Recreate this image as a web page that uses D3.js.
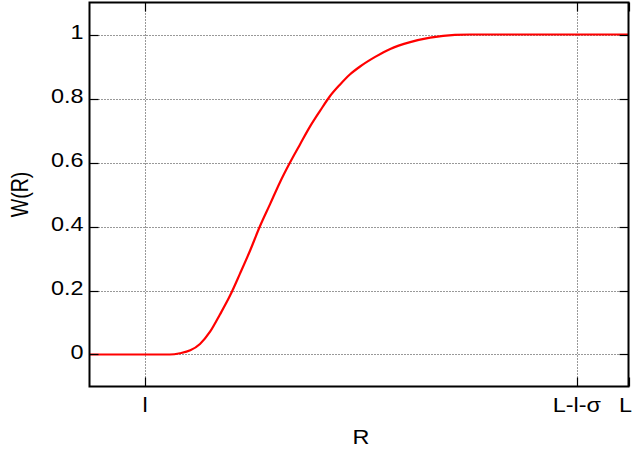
<!DOCTYPE html>
<html>
<head>
<meta charset="utf-8">
<script src="https://cdn.jsdelivr.net/npm/d3@7"></script>
<style>
  body { margin: 0; background: #fff; }
  text { font-family: "Liberation Sans", Arial, sans-serif; }
</style>
</head>
<body>
<svg id="chart" width="633" height="455"></svg>
<script>
// values (R in units where L = 100)
const R = [0, 10.3, 14.9, 16.8, 18.7, 20.5, 22.4, 24.2, 26.1, 27.9, 29.8, 31.6, 33.5, 35.3, 37.2, 39.1, 40.9, 42.8, 44.6, 46.5, 48.3, 50.2, 53.0, 55.8, 59.5, 63.2, 67.8, 70.6, 85, 100];
const W = [0, 0, 0, 0.004, 0.013, 0.033, 0.072, 0.125, 0.185, 0.252, 0.325, 0.4, 0.47, 0.537, 0.6, 0.658, 0.712, 0.762, 0.807, 0.844, 0.875, 0.9, 0.93, 0.955, 0.976, 0.99, 0.999, 1, 1, 1];
const yTicks = [0, 0.2, 0.4, 0.6, 0.8, 1];
const xTicks = [10.3, 90.4, 100];
const xTickLabels = ["l", "L-l-σ", "L"];

const svg = d3.select('#chart')
const margin = { left: 89.5, right: 4.5, top: 2.5, bottom: 68.5 }
const width = 633, height = 455
const fs = 19.5   // font size
const sx = 1.2    // the picture's text is a bit wide

const x = d3.scaleLinear().domain([0, 100]).range([margin.left, width - margin.right])
const y = d3.scaleLinear().domain([-0.1, 1.1]).range([height - margin.bottom, margin.top])

const x0 = x.range()[0], x1 = x.range()[1]
const y0 = y.range()[0], y1 = y.range()[1]

// dotted grid
const grid = svg.append('g')
  .attr('stroke', '#333')
  .attr('stroke-width', 1)
  .attr('stroke-dasharray', '1,2')

grid.selectAll('line.gy')
  .data(yTicks)
  .join('line')
  .attr('class', 'gy')
  .attr('x1', x0).attr('x2', x1)
  .attr('y1', d => Math.round(y(d)) + 0.5)
  .attr('y2', d => Math.round(y(d)) + 0.5)

grid.selectAll('line.gx')
  .data(xTicks.slice(0, 2))
  .join('line')
  .attr('class', 'gx')
  .attr('y1', y0).attr('y2', y1)
  .attr('x1', d => Math.round(x(d)) + 0.5)
  .attr('x2', d => Math.round(x(d)) + 0.5)

// curve
const line = d3.line()
  .x(d => x(d[0]))
  .y(d => y(d[1]))
  .curve(d3.curveMonotoneX)

svg.append('path')
  .datum(d3.zip(R, W))
  .attr('fill', 'none')
  .attr('stroke', '#ff0000')
  .attr('stroke-width', 2.2)
  .attr('d', line)

// inner ticks on all four sides
const tl = 9
const ticks = svg.append('g').attr('stroke', '#000').attr('stroke-width', 1.2)

yTicks.forEach(v => {
  const yy = Math.round(y(v)) + 0.5
  ticks.append('line').attr('x1', x0).attr('x2', x0 + tl).attr('y1', yy).attr('y2', yy)
  ticks.append('line').attr('x1', x1).attr('x2', x1 - tl).attr('y1', yy).attr('y2', yy)
})
xTicks.forEach(v => {
  const xx = Math.round(x(v)) + 0.5
  ticks.append('line').attr('x1', xx).attr('x2', xx).attr('y1', y0).attr('y2', y0 - tl)
  ticks.append('line').attr('x1', xx).attr('x2', xx).attr('y1', y1).attr('y2', y1 + tl)
})

// frame
svg.append('rect')
  .attr('x', x0).attr('y', y1)
  .attr('width', x1 - x0).attr('height', y0 - y1)
  .attr('fill', 'none')
  .attr('stroke', '#000')
  .attr('stroke-width', 2)

// tick labels
svg.append('g')
  .selectAll('text')
  .data(yTicks)
  .join('text')
  .attr('transform', d => `translate(${x0 - 6},${y(d) + 4.7}) scale(${sx},1)`)
  .attr('text-anchor', 'end')
  .attr('font-size', fs)
  .text(d => d3.format('~g')(d))

// the last label sits at the right edge, keep it inside the page
svg.append('g')
  .selectAll('text')
  .data(xTicks)
  .join('text')
  .attr('transform', (d, i) => i === xTicks.length - 1
    ? `translate(${width - 1},412) scale(${sx},1)`
    : `translate(${x(d)},412) scale(${sx},1)`)
  .attr('text-anchor', (d, i) => i === xTicks.length - 1 ? 'end' : 'middle')
  .attr('font-size', fs)
  .text((d, i) => xTickLabels[i])

// axis titles
svg.append('text')
  .attr('transform', `translate(361,444) scale(${sx},1)`)
  .attr('text-anchor', 'middle')
  .attr('font-size', fs)
  .text('R')

svg.append('text')
  .attr('transform', `translate(27.5,${(y0 + y1) / 2}) scale(${sx},1) rotate(-90)`)
  .attr('text-anchor', 'middle')
  .attr('font-size', fs)
  .text('W(R)')
</script>
</body>
</html>
